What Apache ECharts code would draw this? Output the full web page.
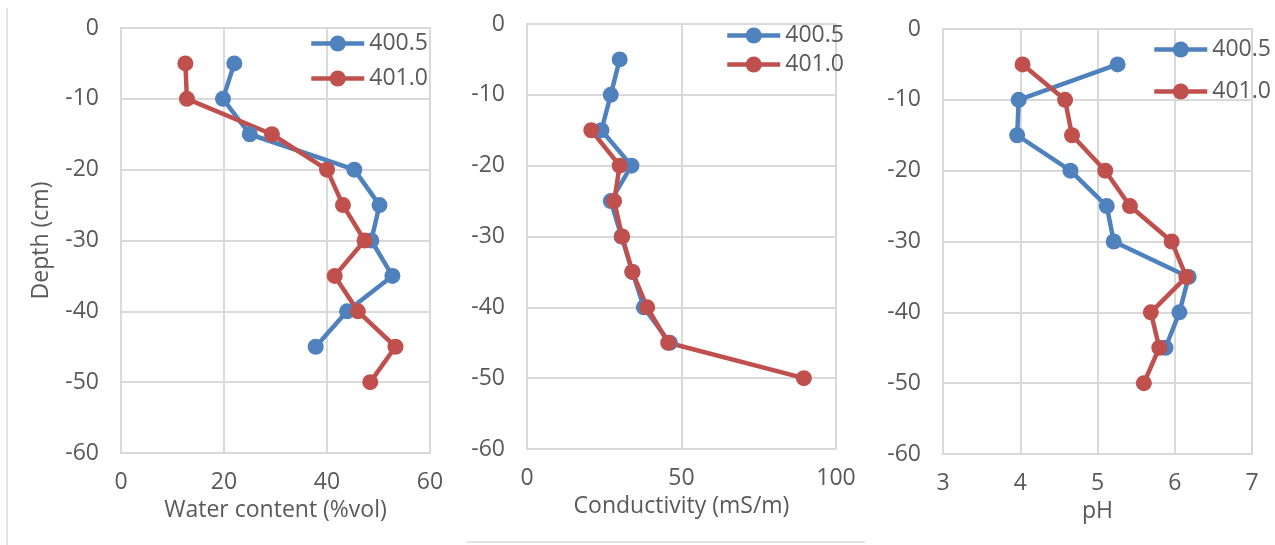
<!DOCTYPE html>
<html>
<head>
<meta charset="utf-8">
<script src="https://cdn.jsdelivr.net/npm/echarts@6/dist/echarts.min.js"></script>
<style>
  html, body { margin: 0; padding: 0; background: #fff; }
  #chart { width: 1275px; height: 545px; }
</style>
</head>
<body>
<div id="chart"></div>
<script>
// depth of each sample (cm)
const depths = [-5, -10, -15, -20, -25, -30, -35, -40, -45, -50]
const seriesNames = ['400.5', '401.0']

// water content (%vol)
const water400 = [22.0, 19.8, 25.0, 45.3, 50.2, 48.6, 52.7, 43.9, 37.8, null]
const water401 = [12.5, 12.8, 29.3, 40.0, 43.1, 47.3, 41.5, 46.0, 53.3, 48.4]
// conductivity (mS/m)
const cond400 = [30.0, 27.1, 24.1, 33.8, 27.1, 30.6, 34.1, 37.8, 46.2, null]
const cond401 = [null, null, 20.8, 30.0, 28.2, 30.8, 34.1, 38.9, 45.7, 89.6]
// pH
const ph400 = [5.26, 3.98, 3.96, 4.65, 5.12, 5.21, 6.18, 6.06, 5.88, null]
const ph401 = [4.03, 4.58, 4.67, 5.10, 5.42, 5.96, 6.15, 5.69, 5.80, 5.60]

const depthTicks = { min: -60, max: 0, interval: 10 }
const xTicks = [
  { min: 0, max: 60, interval: 20, name: 'Water content (%vol)' },
  { min: 0, max: 100, interval: 50, name: 'Conductivity (mS/m)' },
  { min: 3, max: 7, interval: 1, name: 'pH' }
]

const colors = ['#4F81BD', '#C0504D']
const txtColor = '#595959'
const gridColor = '#D9D9D9'
const font = '"Open Sans", sans-serif'
const fontSize = 23

// panel layout
const panels = [
  { left: 121, top: 28, legendLeft: 309, legendTop: 32, legendGap: 12 },
  { left: 527, top: 24, legendLeft: 725, legendTop: 24, legendGap: 6 },
  { left: 943, top: 29, legendLeft: 1152, legendTop: 38, legendGap: 19 }
]

function toPoints(values) {
  const pts = []
  values.forEach((v, i) => {
    if (v !== null) pts.push([v, depths[i]])
  })
  return pts
}

const panelData = [
  [water400, water401],
  [cond400, cond401],
  [ph400, ph401]
]

const chart = echarts.init(document.getElementById('chart'))

const grid = panels.map(p => ({
  left: p.left, top: p.top, width: 309, height: 425,
  show: true, borderColor: gridColor, borderWidth: 2, backgroundColor: 'transparent'
}))

const xAxis = xTicks.map((t, i) => ({
  type: 'value',
  gridIndex: i,
  min: t.min, max: t.max, interval: t.interval,
  name: t.name,
  nameLocation: 'middle',
  nameGap: 40,
  nameTextStyle: { color: txtColor, fontSize: fontSize, fontFamily: font },
  axisLine: { show: false },
  axisTick: { show: false },
  axisLabel: { color: txtColor, fontSize: fontSize, fontFamily: font, margin: 18 },
  splitLine: { show: true, lineStyle: { color: gridColor, width: 2 } }
}))

const yAxis = panels.map((p, i) => ({
  type: 'value',
  gridIndex: i,
  min: depthTicks.min, max: depthTicks.max, interval: depthTicks.interval,
  name: i === 0 ? 'Depth (cm)' : '',
  nameLocation: 'middle',
  nameGap: 68,
  nameTextStyle: { color: txtColor, fontSize: fontSize, fontFamily: font },
  axisLine: { show: false },
  axisTick: { show: false },
  axisLabel: { color: txtColor, fontSize: fontSize, fontFamily: font, margin: 22 },
  splitLine: { show: true, lineStyle: { color: gridColor, width: 2 } }
}))

const series = []
panelData.forEach((pair, i) => {
  pair.forEach((vals, k) => {
    series.push({
      name: seriesNames[k],
      type: 'line',
      xAxisIndex: i,
      yAxisIndex: i,
      data: toPoints(vals),
      symbol: 'circle',
      symbolSize: 16,
      color: colors[k],
      lineStyle: { width: 4.5, color: colors[k] },
      itemStyle: { color: colors[k] },
      animation: false
    })
  })
})

const legend = panels.map(p => ({
  orient: 'vertical',
  left: p.legendLeft,
  top: p.legendTop,
  itemWidth: 53,
  itemHeight: 20,
  itemGap: p.legendGap,
  padding: 0,
  data: seriesNames,
  lineStyle: { width: 4.5 },
  textStyle: { color: txtColor, fontSize: fontSize, fontFamily: font }
}))

chart.setOption({
  backgroundColor: '#fff',
  grid: grid,
  xAxis: xAxis,
  yAxis: yAxis,
  legend: legend,
  series: series,
  // faint chart-frame edges from the original figure
  graphic: [
    { type: 'line', shape: { x1: 7, y1: 8, x2: 7, y2: 545 }, style: { stroke: gridColor, lineWidth: 1.5 } },
    { type: 'line', shape: { x1: 467, y1: 542, x2: 865, y2: 542 }, style: { stroke: gridColor, lineWidth: 1.5 } }
  ]
})
</script>
</body>
</html>
